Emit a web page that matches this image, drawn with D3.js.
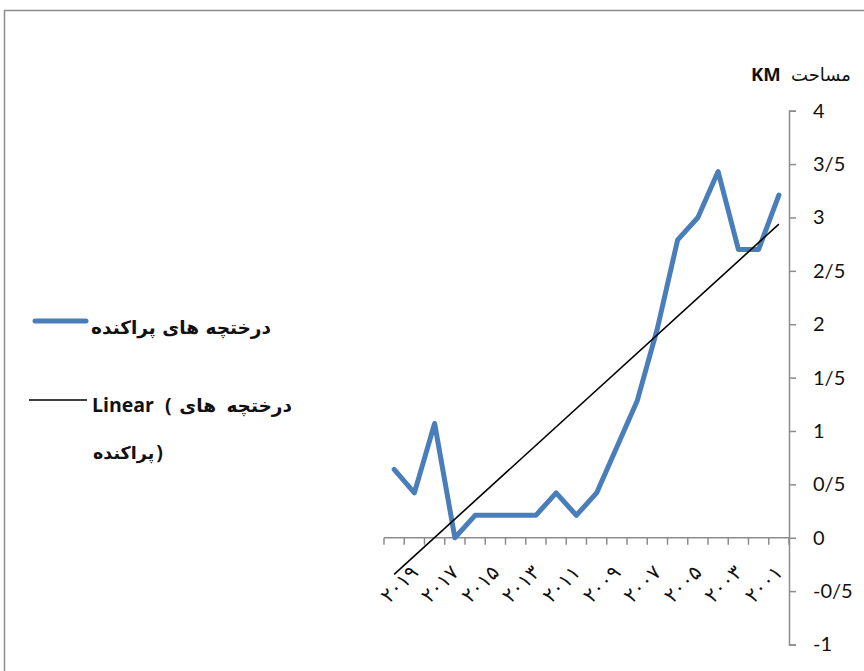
<!DOCTYPE html>
<html>
<head>
<meta charset="utf-8">
<script src="https://cdn.jsdelivr.net/npm/d3@7"></script>
<style>
  html, body { margin: 0; padding: 0; background: #fff; }
  svg { display: block; }
  .ltr { direction: ltr; unicode-bidi: bidi-override; }
</style>
</head>
<body>
<svg id="chart" width="864" height="671"></svg>
<script>
// Years, newest first (the category axis runs right-to-left: 2001 sits at the right)
const years = ["۲۰۲۰","۲۰۱۹","۲۰۱۸","۲۰۱۷","۲۰۱۶","۲۰۱۵","۲۰۱۴","۲۰۱۳","۲۰۱۲","۲۰۱۱",
               "۲۰۱۰","۲۰۰۹","۲۰۰۸","۲۰۰۷","۲۰۰۶","۲۰۰۵","۲۰۰۴","۲۰۰۳","۲۰۰۲","۲۰۰۱"];
// Area of scattered shrubland (KM) per year, same order as years
const shrubArea = [0.64, 0.42, 1.07, 0.0, 0.21, 0.21, 0.21, 0.21, 0.42, 0.21,
                   0.42, 0.85, 1.28, 1.96, 2.79, 3.0, 3.43, 2.7, 2.7, 3.21];
// Labelled categories (every other year)
const labelledYears = ["۲۰۱۹","۲۰۱۷","۲۰۱۵","۲۰۱۳","۲۰۱۱","۲۰۰۹","۲۰۰۷","۲۰۰۵","۲۰۰۳","۲۰۰۱"];
const yTicks = [-1, -0.5, 0, 0.5, 1, 1.5, 2, 2.5, 3, 3.5, 4];
const yTickLabels = ["-1", "-0/5", "0", "0/5", "1", "1/5", "2", "2/5", "3", "3/5", "4"];
const seriesName = "درختچه های پراکنده";
const trendWord = "Linear";
const trendNameA = "درختچه های";
const trendNameB = "پراکنده";
const axisTitleFa = "مساحت";
const axisTitleUnit = "KM";

const svg = d3.select("#chart");
const grey = "#8c8c8c";
const blue = "#4a7ebb";
const latin = "Lato, 'DejaVu Sans', sans-serif";
const latinBold = "'Open Sans', 'DejaVu Sans', sans-serif";
const fa = "'DejaVu Sans', sans-serif";

// outer chart frame
svg.append("rect")
  .attr("x", 4.5).attr("y", 10.5).attr("width", 900).attr("height", 700)
  .attr("fill", "none").attr("stroke", grey).attr("stroke-width", 1.5);

const plot = { left: 384, right: 789, top: 110.7, bottom: 644.5 };

const x = d3.scaleBand().domain(years).range([plot.left, plot.right]).padding(0);
const y = d3.scaleLinear().domain([-1, 4]).range([plot.bottom, plot.top]);

// value axis on the right
const yAxis = d3.axisRight(y).tickValues(yTicks)
  .tickFormat((d, i) => yTickLabels[i]).tickSizeInner(7).tickSizeOuter(7).tickPadding(17);
const gy = svg.append("g").attr("transform", `translate(${plot.right},0)`).call(yAxis);
gy.select(".domain").attr("stroke", grey).attr("stroke-width", 1.5);
gy.selectAll(".tick line").attr("stroke", grey).attr("stroke-width", 1.5);
gy.selectAll(".tick text").attr("font-family", latin).attr("font-size", 20)
  .attr("fill", "#111");

// category axis crossing at zero
const y0 = y(0);
const gx = svg.append("g").attr("transform", `translate(0,${y0})`);
gx.append("line").attr("x1", plot.left).attr("x2", plot.right)
  .attr("stroke", grey).attr("stroke-width", 1.5);
const bounds = years.map(d => x(d)).concat([plot.right]);
gx.selectAll("line.tk").data(bounds).join("line").attr("class", "tk")
  .attr("x1", d => d).attr("x2", d => d).attr("y1", 0).attr("y2", 7)
  .attr("stroke", grey).attr("stroke-width", 1.5);
gx.selectAll("text").data(labelledYears).join("text")
  .attr("transform", d => `translate(${x(d) + x.bandwidth() / 2},${31}) rotate(-45)`)
  .attr("text-anchor", "end")
  .attr("dy", "0.35em")
  .attr("font-family", fa).attr("font-size", 20).attr("letter-spacing", 2)
  .attr("fill", "#111")
  .text(d => d);

// data line
const cx = d => x(d) + x.bandwidth() / 2;
const line = d3.line().x((d, i) => cx(years[i])).y(d => y(d));
svg.append("path").datum(shrubArea)
  .attr("d", line).attr("fill", "none")
  .attr("stroke", blue).attr("stroke-width", 5)
  .attr("stroke-linejoin", "round").attr("stroke-linecap", "round");

// least-squares linear trend over the category index
const n = shrubArea.length;
const mx = d3.mean(d3.range(n));
const my = d3.mean(shrubArea);
const sxy = d3.sum(shrubArea, (v, i) => (i - mx) * (v - my));
const sxx = d3.sum(d3.range(n), i => (i - mx) * (i - mx));
const slope = sxy / sxx, intercept = my - slope * mx;
const trend = [0, n - 1].map(i => [cx(years[i]), y(intercept + slope * i)]);
svg.append("path").attr("d", d3.line()(trend))
  .attr("fill", "none").attr("stroke", "#000").attr("stroke-width", 1.6);

// axis title
svg.append("text").attr("x", 751).attr("y", 81)
  .attr("font-family", latinBold).attr("font-weight", 700).attr("font-size", 18.5)
  .attr("fill", "#111").text(axisTitleUnit);
svg.append("text").attr("x", 851).attr("y", 81).attr("text-anchor", "end")
  .attr("font-family", fa).attr("font-size", 18)
  .attr("fill", "#111").text(axisTitleFa);

// legend
const lg = svg.append("g").attr("fill", "#111").attr("font-weight", "bold");
lg.append("line").attr("x1", 35).attr("x2", 86).attr("y1", 321).attr("y2", 321)
  .attr("stroke", blue).attr("stroke-width", 5).attr("stroke-linecap", "round");
lg.append("text").attr("x", 271).attr("y", 334).attr("text-anchor", "end")
  .attr("font-family", fa).attr("font-size", 18.5).text(seriesName);
lg.append("line").attr("x1", 29).attr("x2", 87).attr("y1", 400).attr("y2", 400)
  .attr("stroke", "#000").attr("stroke-width", 1.6);
lg.append("text").attr("x", 92).attr("y", 412)
  .attr("font-family", latinBold).attr("font-weight", 700).attr("font-size", 19.5).text(trendWord);
lg.append("text").attr("class", "ltr").attr("x", 165).attr("y", 412)
  .attr("font-family", latinBold).attr("font-weight", 700).attr("font-size", 19.5).text("(");
lg.append("text").attr("x", 292).attr("y", 412).attr("text-anchor", "end")
  .attr("font-family", fa).attr("font-size", 18.5).attr("word-spacing", 4).text(trendNameA);
const w2 = lg.append("text").attr("x", 93).attr("y", 459)
  .attr("font-family", fa).attr("font-size", 17.5).text(trendNameB);
const w2end = 93 + w2.node().getComputedTextLength();
lg.append("text").attr("class", "ltr").attr("x", w2end + 2).attr("y", 459)
  .attr("font-family", latinBold).attr("font-weight", 700).attr("font-size", 19.5).text(")");
</script>
</body>
</html>
